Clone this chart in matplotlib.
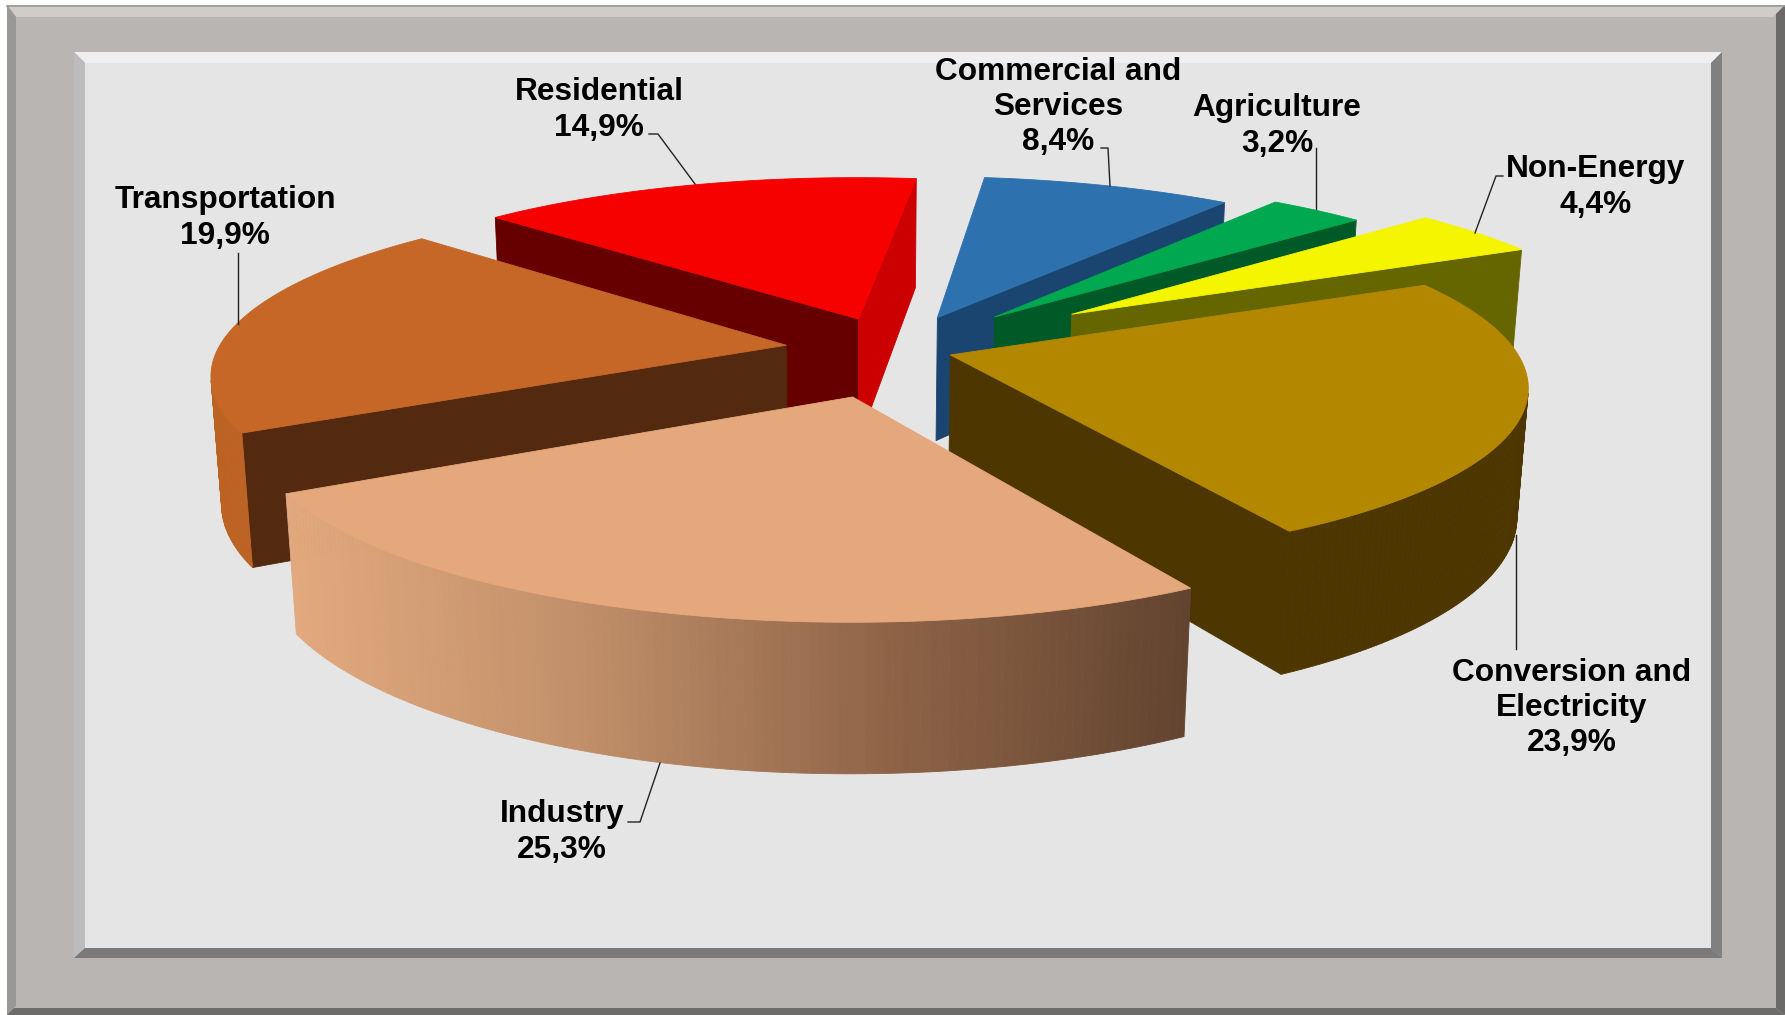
import numpy as np
import matplotlib
matplotlib.use('Agg')
import matplotlib.pyplot as plt
from matplotlib.colors import LinearSegmentedColormap
from matplotlib.patches import Polygon, Rectangle

# clockwise from the back of the pie
CATEGORIES = ['Commercial', 'Agriculture', 'Non-Energy', 'Conversion', 'Industry', 'Transportation', 'Residential']
SHARES = [8.4, 3.2, 4.4, 23.9, 25.3, 19.9, 14.9]
LABELS = ['Commercial and\nServices\n8,4%', 'Agriculture\n3,2%', 'Non-Energy\n4,4%',
          'Conversion and\nElectricity\n23,9%', 'Industry\n25,3%', 'Transportation\n19,9%',
          'Residential\n14,9%']

EXPLODE = [0.20629, 0.26658, 0.38681, 0.1, 0.27312, 0.19538, 0.19348]
TOP_COLORS = ['#2E71AF', '#00A84F', '#F5F500', '#B48700', '#E5A77C', '#C66727', '#F70000']
START_COLORS = ['#1A4570', '#005A28', '#666600', '#4D3600', '#E5A77C', '#532A0F', '#660000']
END_COLORS = ['#1A4570', '#005A28', '#666600', '#4D3600', '#E5A77C', '#BC6324', '#CC0000']
WALL_COLORS = ['#1A4570', '#005A28', '#666600', '#4D3600', None, '#BC6324', '#CC0000']
DRAW_ORDER = [6, 0, 1, 2, 5, 3, 4]

# text centre (px) and leader line for each label
LABEL_POS = [(1058, 107), (1277, 126), (1596, 187), (1572, 708), (562, 832), (225, 218), (599, 110)]
LEADERS = [[(1101, 148), (1108, 148), (1110, 186)],
           [(1316, 148), (1316, 209)],
           [(1503, 176), (1496, 176), (1475, 233)],
           [(1516, 649), (1516, 535)],
           [(628, 822), (640, 822), (660, 763)],
           [(238, 253), (238, 324)],
           [(649, 134), (658, 134), (695, 184)]]

# camera fitted to the reference: a, b, c, d, e, f, g, h, p, q, r
CAMERA = [574.20303, 110.58433, 895.87041, -4.09232, -117.31005, 349.68478,
          0.00917, 0.15809, -14.045, -133.98112, -0.01648]
START_ANGLE = 0.16545

plt.rcParams['font.family'] = ['Liberation Sans', 'DejaVu Sans']


def project(u, v, z):
    a, b, c, d, e, f, g, h, p, q, r = CAMERA
    w = g * u + h * v + 1 + r * z
    return (a * u + b * v + c + p * z) / w, (d * u + e * v + f + q * z) / w


def quad(ax, p1, p2, color, zorder):
    # side face between two rim points, skipped when it faces away
    x1, y1 = project(p1[0], p1[1], 0)
    x2, y2 = project(p2[0], p2[1], 0)
    x3, y3 = project(p2[0], p2[1], -1)
    x4, y4 = project(p1[0], p1[1], -1)
    xs = [x1, x2, x3, x4]
    ys = [y1, y2, y3, y4]
    area = sum(xs[i] * ys[(i + 1) % 4] - xs[(i + 1) % 4] * ys[i] for i in range(4))
    if area < 0:
        ax.add_patch(Polygon(list(zip(xs, ys)), facecolor=color, edgecolor=color, lw=0.6, zorder=zorder))


def draw_frame(ax):
    ax.add_patch(Rectangle((7, 5), 1778, 1010, color='#B9B5B3', lw=0))
    # outer bevel, lighter towards the plate
    ax.add_patch(Polygon([(7, 5), (1785, 5), (1773, 17), (16, 17)], color='#CFCCCA', lw=0))
    ax.add_patch(Polygon([(7, 5), (16, 17), (16, 1006), (7, 1015)], color='#9A9897', lw=0))
    ax.add_patch(Polygon([(1785, 5), (1785, 1015), (1776, 1008), (1776, 14)], color='#6C6A69', lw=0))
    ax.add_patch(Polygon([(7, 1015), (14, 1008), (1776, 1008), (1785, 1015)], color='#6E6C6B', lw=0))
    ax.plot([7, 1785], [5.5, 5.5], color='#9A9897', lw=1.2)
    # inner bevel and panel
    ax.add_patch(Rectangle((85, 63), 1626, 885, color='#E5E5E5', lw=0))
    ax.add_patch(Polygon([(74, 52), (1722, 52), (1711, 63), (85, 63)], color='#EFEFEF', lw=0))
    ax.add_patch(Polygon([(74, 52), (85, 63), (85, 948), (74, 958)], color='#BCBCBC', lw=0))
    ax.add_patch(Polygon([(1722, 52), (1722, 958), (1711, 948), (1711, 63)], color='#808080', lw=0))
    ax.add_patch(Polygon([(74, 958), (85, 948), (1711, 948), (1722, 958)], color='#7A7A7A', lw=0))


fig = plt.figure(figsize=(17.85, 10.15), dpi=100)
ax = fig.add_axes([0, 0, 1, 1])
ax.set_xlim(0, 1785)
ax.set_ylim(1015, 0)
ax.axis('off')

draw_frame(ax)

shares = np.array(SHARES)
edges = np.concatenate([[0], np.cumsum(shares)]) / shares.sum() * 2 * np.pi + START_ANGLE
gradient = LinearSegmentedColormap.from_list('industry', ['#E2A97F', '#C08F69', '#8F6448', '#634430'])

for depth, i in enumerate(DRAW_ORDER):
    z = 2 + depth
    mid = (edges[i] + edges[i + 1]) / 2
    cu = EXPLODE[i] * np.sin(mid)
    cv = EXPLODE[i] * np.cos(mid)
    t = np.linspace(edges[i], edges[i + 1], 120)
    rim_u = cu + np.sin(t)
    rim_v = cv + np.cos(t)

    quad(ax, (cu, cv), (rim_u[0], rim_v[0]), START_COLORS[i], z)
    quad(ax, (rim_u[-1], rim_v[-1]), (cu, cv), END_COLORS[i], z)
    rim_x, _ = project(rim_u, rim_v, 0)
    for j in range(len(t) - 1):
        color = WALL_COLORS[i]
        if color is None:
            color = gradient((rim_x[j] - rim_x.min()) / (rim_x.max() - rim_x.min()))
        quad(ax, (rim_u[j], rim_v[j]), (rim_u[j + 1], rim_v[j + 1]), color, z)

    top_x, top_y = project(np.r_[cu, rim_u], np.r_[cv, rim_v], 0)
    ax.add_patch(Polygon(np.c_[top_x, top_y], facecolor=TOP_COLORS[i], edgecolor=TOP_COLORS[i],
                         lw=0.6, zorder=z + 0.5))

for label, pos, leader in zip(LABELS, LABEL_POS, LEADERS):
    ax.text(pos[0], pos[1], label, ha='center', va='center', fontsize=22.8, fontweight='bold',
            color='black', linespacing=1.23, zorder=20)
    xs, ys = zip(*leader)
    ax.plot(xs, ys, color='#222222', lw=1, zorder=15)

fig.savefig('out.png', dpi=100)
